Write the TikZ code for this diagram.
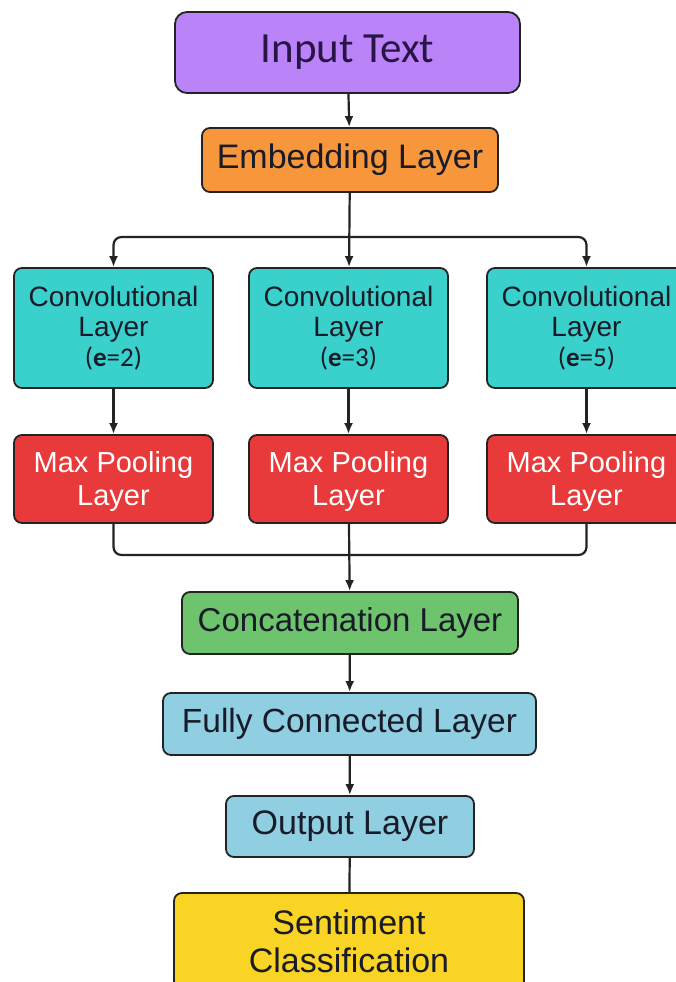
\documentclass[tikz,border=0pt]{standalone}
\usepackage{xcolor}
\usepackage{fontspec}
\setmainfont{Liberation Sans}
\newfontfamily\calfont{Carlito}
\usepackage{tikz}
\usetikzlibrary{arrows.meta, positioning, calc}
\definecolor{inputpurple}{RGB}{186, 132, 248}
\definecolor{embedorange}{RGB}{247, 150, 58}
\definecolor{convteal}{RGB}{58, 208, 204}
\definecolor{poolred}{RGB}{232, 58, 58}
\definecolor{concatgreen}{RGB}{110, 196, 108}
\definecolor{denseblue}{RGB}{144, 206, 226}
\definecolor{sentyellow}{RGB}{250, 212, 36}
\definecolor{darktext}{RGB}{25, 28, 40}
\definecolor{linegray}{RGB}{35, 35, 35}

\tikzset{
    layerbox/.style={draw=linegray, line width=1.8pt, rounded corners=8pt,
        align=center, text=darktext, inner sep=0pt},
    convbox/.style={layerbox, fill=convteal, minimum width=199pt, minimum height=120pt,
        font=\fontsize{28}{30}\selectfont},
    poolbox/.style={layerbox, fill=poolred, text=white, minimum width=199pt,
        minimum height=88pt, font=\fontsize{29}{33}\selectfont},
    flow/.style={draw=linegray, line width=2.2pt, -{Latex[length=11pt, width=9pt]}},
    joint/.style={draw=linegray, line width=2.2pt, rounded corners=8pt}
}

\begin{document}
\begin{tikzpicture}[x=1pt, y=-1pt]
    \useasboundingbox[fill=white] (0,0) rectangle (675,982);

    \node[layerbox, fill=inputpurple, rounded corners=12pt, minimum width=345pt, minimum height=81pt,
          text={rgb,255:red,40;green,20;blue,70}, font=\calfont\fontsize{43}{46}\selectfont]
          (input) at (347.5,52.5) {Input Text};
    \node[layerbox, fill=embedorange, minimum width=296pt, minimum height=64pt,
          font=\fontsize{34}{38}\selectfont] (embed) at (350,160) {Embedding Layer};

    \node[convbox] (conv1) at (113.5,328) {Convolutional\\Layer\\{\calfont\fontsize{27}{30}\selectfont(\textbf{e}=2)}};
    \node[convbox] (conv2) at (348.5,328) {Convolutional\\Layer\\{\calfont\fontsize{27}{30}\selectfont(\textbf{e}=3)}};
    \node[convbox] (conv3) at (586.5,328) {Convolutional\\Layer\\{\calfont\fontsize{27}{30}\selectfont(\textbf{e}=5)}};

    \node[poolbox, text depth=2pt] (pool1) at (113.5,479) {Max Pooling\\Layer};
    \node[poolbox, text depth=2pt] (pool2) at (348.5,479) {Max Pooling\\Layer};
    \node[poolbox, text depth=2pt] (pool3) at (586.5,479) {Max Pooling\\Layer};

    \node[layerbox, fill=concatgreen, minimum width=336pt, minimum height=62pt,
          font=\fontsize{33}{36}\selectfont] (concat) at (350,623) {Concatenation Layer};
    \node[layerbox, fill=denseblue, minimum width=373pt, minimum height=62pt,
          font=\fontsize{33.5}{36}\selectfont] (dense) at (349.5,724) {Fully Connected Layer};
    \node[layerbox, fill=denseblue, minimum width=248pt, minimum height=61pt,
          font=\fontsize{34}{38}\selectfont] (output) at (350,826.5) {Output Layer};
    \node[layerbox, fill=sentyellow, minimum width=350pt, minimum height=96pt,
          font=\fontsize{34}{38}\selectfont] (sentiment) at (349,941) {Sentiment\\Classification};

    \coordinate (split) at (348.5,237);
    \coordinate (merge) at (348.5,555);

    \draw[flow] (input) -- (embed);
    \draw[flow] (embed) -- (conv2);
    \draw[flow, rounded corners=8pt] (split) -| (conv1.north);
    \draw[flow, rounded corners=8pt] (split) -| (conv3.north);
    \foreach \i in {1,2,3}
        \draw[flow] (conv\i) -- (pool\i);
    \draw[joint] (pool1.south) |- (merge);
    \draw[joint] (pool3.south) |- (merge);
    \draw[flow] (pool2) -- (concat);
    \draw[flow] (concat) -- (dense);
    \draw[flow] (dense) -- (output);
    \draw[joint] (output) -- (sentiment);
\end{tikzpicture}
\end{document}
